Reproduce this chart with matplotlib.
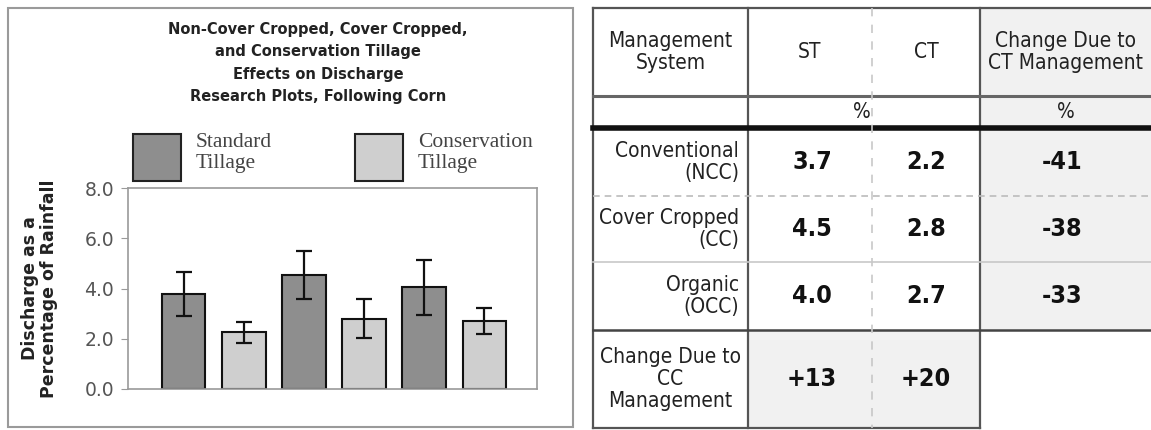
import matplotlib
matplotlib.use("Agg")
import matplotlib.pyplot as plt
from matplotlib.patches import Rectangle

# ---- bar chart data ----
bar_labels = ["ST NCC", "CT NCC", "ST CC", "CT CC", "ST OCC", "CT OCC"]
bar_values = [3.78, 2.25, 4.55, 2.80, 4.05, 2.70]
bar_errors = [0.86, 0.41, 0.95, 0.78, 1.10, 0.52]
bar_kind = ["ST", "CT", "ST", "CT", "ST", "CT"]
y_ticks = [0.0, 2.0, 4.0, 6.0, 8.0]

# ---- table data ----
header = ["Management\nSystem", "ST", "CT", "Change Due to\nCT Management"]
row_labels = ["Conventional\n(NCC)", "Cover Cropped\n(CC)", "Organic\n(OCC)"]
st_vals = ["3.7", "4.5", "4.0"]
ct_vals = ["2.2", "2.8", "2.7"]
ct_change = ["-41", "-38", "-33"]
cc_change_label = "Change Due to\nCC\nManagement"
cc_change = ["+13", "+20"]

DARK = "#8e8e8e"
LIGHT = "#cfcfcf"
colors = {"ST": DARK, "CT": LIGHT}

W, H = 1151, 430
fig = plt.figure(figsize=(W / 100, H / 100), dpi=100)

# overlay in pixel coordinates for frame, legend and table
bg = fig.add_axes([0, 0, 1, 1], zorder=0)
bg.set_xlim(0, W)
bg.set_ylim(H, 0)
bg.axis("off")


def px_axes(x0, y0, x1, y1, **kw):
    return fig.add_axes([x0 / W, 1 - y1 / H, (x1 - x0) / W, (y1 - y0) / H], **kw)


# left panel frame
bg.add_patch(Rectangle((8, 8), 565, 419, fill=False, ec="#9a9a9a", lw=1.5))

# title
title = ("Non-Cover Cropped, Cover Cropped,\nand Conservation Tillage\n"
         "Effects on Discharge\nResearch Plots, Following Corn")
bg.text(318, 63, title, ha="center", va="center", fontsize=10.5,
        fontweight="bold", color="#222", linespacing=1.62)

# legend
serif = ["Liberation Serif", "DejaVu Serif"]
bg.add_patch(Rectangle((133, 134), 48, 47, fc=DARK, ec="#222", lw=1.5))
bg.add_patch(Rectangle((355, 134), 48, 47, fc=LIGHT, ec="#222", lw=1.5))
bg.text(196, 153, "Standard\nTillage", ha="left", va="center", fontsize=15.5,
        family=serif, color="#444", linespacing=1.2)
bg.text(418, 153, "Conservation\nTillage", ha="left", va="center", fontsize=15.5,
        family=serif, color="#444", linespacing=1.2)

# bar chart
ax = px_axes(128, 188, 537, 389, zorder=1)
x = list(range(len(bar_values)))
ax.bar(x, bar_values, width=0.72, color=[colors[k] for k in bar_kind],
       edgecolor="#111", linewidth=1.5, zorder=2)
ax.errorbar(x, bar_values, yerr=bar_errors, fmt="none", ecolor="#111",
            elinewidth=1.6, capsize=6, capthick=1.6, zorder=3)
ax.set_xlim(-0.93, 5.88)
ax.set_ylim(0, 8)
ax.set_yticks(y_ticks)
ax.set_yticklabels([f"{v:.1f}" for v in y_ticks])
ax.set_xticks([])
for s in ax.spines.values():
    s.set_color("#9a9a9a")
    s.set_linewidth(1.2)
ax.tick_params(axis="y", length=5, color="#9a9a9a", labelsize=13.5,
               labelcolor="#555", pad=5)
ax.set_ylabel("Discharge as a\nPercentage of Rainfall", fontsize=12.5,
              fontweight="bold", color="#222", labelpad=19, linespacing=1.1)

# ---- table ----
tfont = dict(family="DejaVu Sans", fontstretch="condensed")
xL, xA, xB, xC, xR = 593, 748, 872, 980, 1151
yT, yH, yP, y1, y2, y3, yB = 8, 96, 128, 196, 262, 330, 428
rows_y = [y1, y2, y3]
rows_top = [yP, y1, y2]

# shaded cells
bg.add_patch(Rectangle((xC, yT), xR - xC, y3 - yT, fc="#f1f1f1", ec="none"))
bg.add_patch(Rectangle((xA, y3), xC - xA, yB - y3, fc="#f1f1f1", ec="none"))

line = dict(color="#555", lw=1.6)
bg.plot([xL, xR], [yT, yT], **line)
bg.plot([xL, xL], [yT, yB], **line)
bg.plot([xA, xA], [yT, yB], **line)
bg.plot([xC, xC], [yT, yB], **line)
bg.plot([xL, xR], [yH, yH], color="#666", lw=2.2)
bg.plot([xL, xR], [yP, yP], color="#111", lw=4)
bg.plot([xL, xR], [y1, y1], color="#bbb", lw=1.2, ls=(0, (4, 3)))
bg.plot([xL, xR], [y2, y2], color="#c8c8c8", lw=1.2)
bg.plot([xL, xR], [y3, y3], color="#444", lw=1.8)
bg.plot([xL, xC], [yB, yB], **line)
bg.plot([xB, xB], [yT, yB], color="#c8c8c8", lw=1.2, ls=(0, (5, 5)))

# header
head_x = [(xL + xA) / 2, (xA + xB) / 2, (xB + xC) / 2, (xC + xR) / 2]
for hx, txt in zip(head_x, header):
    bg.text(hx, (yT + yH) / 2, txt, ha="center", va="center", fontsize=15,
            color="#222", linespacing=1.15, **tfont)
bg.text((xA + xC) / 2 - 2, (yH + yP) / 2, "%", ha="center", va="center",
        fontsize=15, color="#222", **tfont)
bg.text(head_x[3], (yH + yP) / 2, "%", ha="center", va="center",
        fontsize=15, color="#222", **tfont)

# body rows
for i, lab in enumerate(row_labels):
    cy = (rows_top[i] + rows_y[i]) / 2
    bg.text(xA - 9, cy, lab, ha="right", va="center", fontsize=15,
            color="#222", linespacing=1.15, **tfont)
    bg.text(head_x[1] + 2, cy, st_vals[i], ha="center", va="center",
            fontsize=18, fontweight="bold", color="#111", **tfont)
    bg.text(head_x[2], cy, ct_vals[i], ha="center", va="center",
            fontsize=18, fontweight="bold", color="#111", **tfont)
    bg.text(head_x[3] - 3, cy, ct_change[i], ha="center", va="center",
            fontsize=18, fontweight="bold", color="#111", **tfont)

cy = (y3 + yB) / 2
bg.text(head_x[0], cy, cc_change_label, ha="center", va="center", fontsize=15,
        color="#222", linespacing=1.15, **tfont)
bg.text(head_x[1] + 2, cy, cc_change[0], ha="center", va="center",
        fontsize=18, fontweight="bold", color="#111", **tfont)
bg.text(head_x[2], cy, cc_change[1], ha="center", va="center",
        fontsize=18, fontweight="bold", color="#111", **tfont)

fig.savefig("out.png", dpi=100)
